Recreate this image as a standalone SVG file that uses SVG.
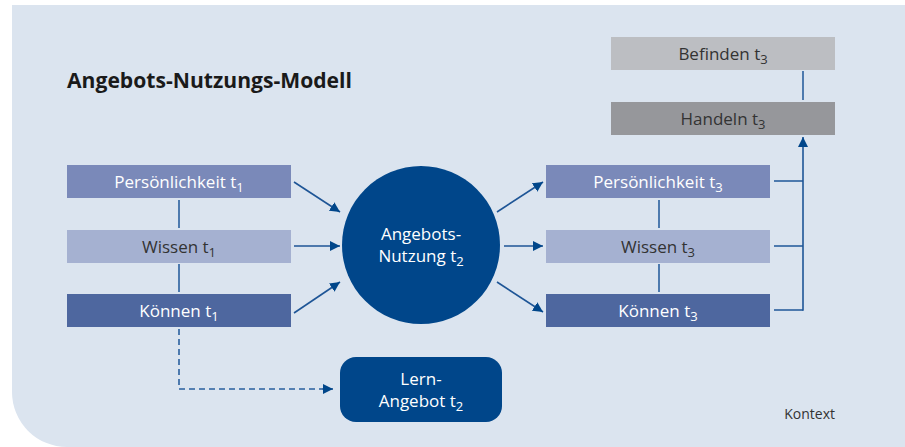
<svg xmlns="http://www.w3.org/2000/svg" width="905" height="447" viewBox="0 0 905 447">
<defs>
<marker id="ah" viewBox="0 0 10 10" refX="10" refY="5" markerWidth="10" markerHeight="10" markerUnits="userSpaceOnUse" orient="auto">
<path d="M0,0 L10,5 L0,10 z" fill="#00468a"/>
</marker>
<style>
.t{font-family:"Open Sans","Liberation Sans",sans-serif;font-size:17px;text-anchor:middle}
.s{font-size:13px}
.w{fill:#ffffff}
.d{fill:#333333}
.ln{stroke:#2a5f9e;stroke-width:1.6;fill:none}
.ar{stroke:#1e5596;stroke-width:1.6;fill:none;marker-end:url(#ah)}
</style>
</defs>
<rect width="905" height="447" fill="#ffffff"/>
<path d="M12,5 H905 V447 H67 A55,55 0 0 1 12,392 Z" fill="#dbe4ef"/>
<text x="67" y="88" font-family="Open Sans, Liberation Sans, sans-serif" font-weight="bold" font-size="21" fill="#1a1a1a" textLength="285" lengthAdjust="spacingAndGlyphs">Angebots-Nutzungs-Modell</text>

<g id="connectors">
<line class="ln" x1="179" y1="200" x2="179" y2="228"/>
<line class="ln" x1="179" y1="264" x2="179" y2="292"/>
<path class="ln" d="M179,329 V389 H322" stroke-dasharray="6,4"/>
<path class="ar" d="M322,389 H333"/>
<line class="ar" x1="294" y1="182" x2="340" y2="212"/>
<line class="ar" x1="294" y1="246" x2="340" y2="246"/>
<line class="ar" x1="294" y1="313" x2="340" y2="282"/>
<line class="ar" x1="497" y1="212" x2="543" y2="182"/>
<line class="ar" x1="504" y1="246" x2="543" y2="246"/>
<line class="ar" x1="497" y1="282" x2="543" y2="312"/>
<line class="ln" x1="659" y1="200" x2="659" y2="228"/>
<line class="ln" x1="659" y1="264" x2="659" y2="292"/>
<line class="ln" x1="774" y1="181" x2="803" y2="181"/>
<line class="ln" x1="774" y1="246" x2="803" y2="246"/>
<line class="ln" x1="774" y1="310" x2="803" y2="310"/>
<path class="ar" d="M803,310.8 V137"/>
<line class="ln" x1="803" y1="71" x2="803" y2="100"/>
</g>

<g id="pers1"><rect x="67" y="165" width="224" height="33" fill="#7a89b9"/><text class="t w" x="179" y="188">Persönlichkeit t<tspan class="s" dy="4">1</tspan></text></g>
<g id="wissen1"><rect x="67" y="230" width="224" height="33" fill="#a5b1d1"/><text class="t d" x="179" y="253">Wissen t<tspan class="s" dy="4">1</tspan></text></g>
<g id="koennen1"><rect x="67" y="294" width="224" height="33" fill="#4e679f"/><text class="t w" x="179" y="317">Können t<tspan class="s" dy="4">1</tspan></text></g>

<g id="nutzung"><circle cx="421" cy="245" r="79" fill="#00468a"/><text class="t w" x="421" y="240">Angebots-</text><text class="t w" x="421" y="262">Nutzung t<tspan class="s" dy="4">2</tspan></text></g>

<g id="lernangebot"><rect x="340" y="357" width="162" height="65" rx="16" fill="#00468a"/><text class="t w" x="421" y="385">Lern-</text><text class="t w" x="421" y="407">Angebot t<tspan class="s" dy="4">2</tspan></text></g>

<g id="pers3"><rect x="546" y="165" width="224" height="33" fill="#7a89b9"/><text class="t w" x="658" y="188">Persönlichkeit t<tspan class="s" dy="4">3</tspan></text></g>
<g id="wissen3"><rect x="546" y="230" width="224" height="33" fill="#a5b1d1"/><text class="t d" x="658" y="253">Wissen t<tspan class="s" dy="4">3</tspan></text></g>
<g id="koennen3"><rect x="546" y="294" width="224" height="33" fill="#4e679f"/><text class="t w" x="658" y="317">Können t<tspan class="s" dy="4">3</tspan></text></g>

<g id="befinden"><rect x="611" y="37" width="224" height="33" fill="#bcbec2"/><text class="t d" x="723" y="60">Befinden t<tspan class="s" dy="4">3</tspan></text></g>
<g id="handeln"><rect x="611" y="102" width="224" height="33" fill="#96979b"/><text class="t d" x="723" y="125">Handeln t<tspan class="s" dy="4">3</tspan></text></g>

<text x="835" y="419" font-family="Open Sans, Liberation Sans, sans-serif" font-size="14" fill="#333333" text-anchor="end">Kontext</text>
</svg>
